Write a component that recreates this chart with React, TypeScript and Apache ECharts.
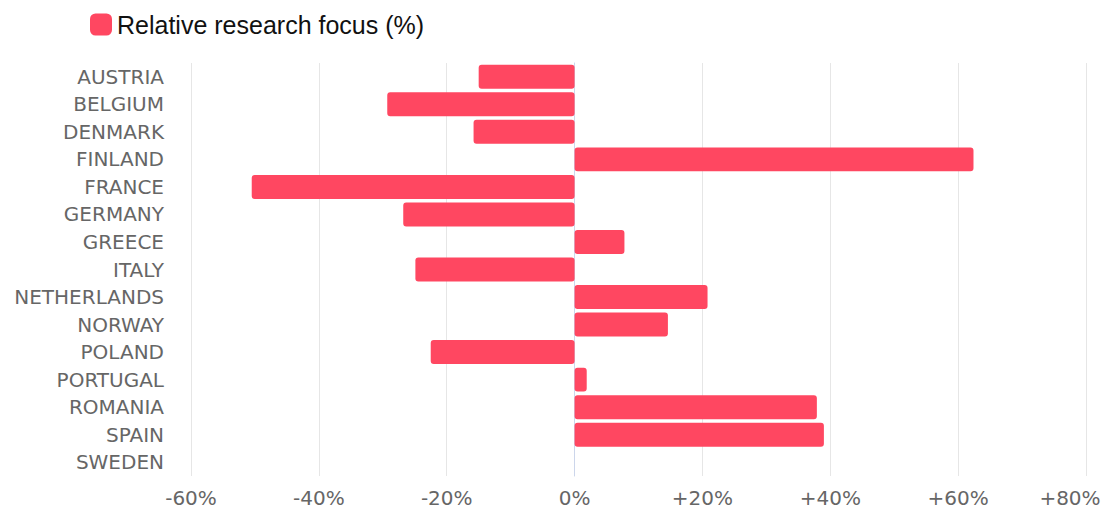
import React, { useEffect, useRef } from "react";
import * as echarts from "echarts";

const countries = [
  "AUSTRIA", "BELGIUM", "DENMARK", "FINLAND", "FRANCE", "GERMANY", "GREECE", "ITALY",
  "NETHERLANDS", "NORWAY", "POLAND", "PORTUGAL", "ROMANIA", "SPAIN", "SWEDEN",
];
const focusValues = [-15, -29.3, -15.8, 62.4, -50.5, -26.8, 7.8, -24.9, 20.8, 14.6, -22.5, 1.9, 37.9, 39, 0];
const seriesName = "Relative research focus (%)";
const axisMin = -60;
const axisMax = 80;

export default function App() {
  const ref = useRef<HTMLDivElement>(null);
  useEffect(() => {
    const chart = echarts.init(ref.current!, null, { renderer: "svg" });
    const labelFont = { fontFamily: "DejaVu Sans", fontSize: 20, color: "#666" };
    chart.setOption({
      animation: false,
      legend: {
        left: 90,
        top: 12,
        padding: 0,
        itemWidth: 22,
        itemHeight: 22,
        itemGap: 10,
        textStyle: { fontFamily: "Liberation Sans", fontSize: 25, color: "#111" },
        data: [{ name: seriesName, itemStyle: { borderRadius: 3 } }],
      },
      grid: { left: 191, right: 19, top: 63, bottom: 39, containLabel: false, outerBoundsMode: "none" },
      xAxis: {
        type: "value",
        min: axisMin,
        max: axisMax,
        interval: 20,
        axisLine: { show: false },
        axisTick: { show: false },
        splitLine: { lineStyle: { color: "#e6e6e6", width: 1 } },
        axisLabel: {
          margin: 12,
          ...labelFont,
          formatter: (v: number) => {
            const s = v > 0 ? "+" + v + "%" : v + "%";
            return v === axisMax ? "{last|" + s + "}" : s;
          },
          rich: {
            last: { ...labelFont, padding: [0, 32, 0, 0] },
          },
        },
      },
      yAxis: {
        type: "category",
        data: countries,
        inverse: true,
        axisLine: { show: true, lineStyle: { color: "#ccd6eb", width: 1 } },
        axisTick: { show: false },
        axisLabel: {
          margin: 27,
          ...labelFont,
        },
      },
      series: [
        {
          name: seriesName,
          type: "bar",
          data: focusValues,
          barCategoryGap: "13%",
          itemStyle: { color: "#ff4761", borderRadius: 3 },
        },
      ],
    });
    return () => chart.dispose();
  }, []);
  return <div ref={ref} style={{ width: 1105, height: 515, position: "absolute", left: 0, top: 0 }} />;
}
